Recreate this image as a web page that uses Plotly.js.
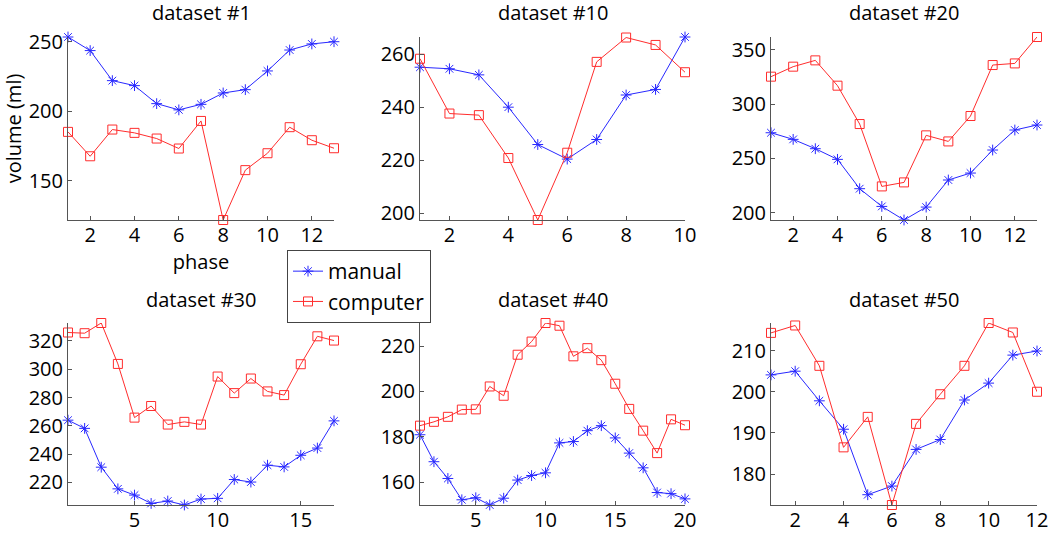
<!DOCTYPE html>
<html>
<head>
<meta charset="utf-8">
<script src="https://cdn.plot.ly/plotly-3.0.1.min.js"></script>
<style>
  html, body {margin: 0; padding: 0; background: #fff;}
  #chart {width: 1050px; height: 535px;}
</style>
</head>
<body>
<div id="chart"></div>
<script>
/* volume per phase, manual vs computer, six datasets */
var titles = ['dataset #1', 'dataset #10', 'dataset #20', 'dataset #30', 'dataset #40', 'dataset #50'];

var manual1 = [253.6, 243.8, 222.1, 218.5, 205.5, 201.0, 205.0, 213.2, 215.6, 229.1, 244.2, 248.6, 250.2];
var computer1 = [185.1, 167.5, 186.8, 184.4, 180.3, 173.1, 193.0, 121.5, 157.5, 169.7, 188.5, 179.1, 173.3];

var manual10 = [255.2, 254.6, 252.3, 240.1, 226.0, 220.5, 227.9, 244.7, 246.8, 266.6];
var computer10 = [258.4, 237.7, 237.1, 220.9, 197.5, 222.9, 257.2, 266.4, 263.6, 253.3];

var manual20 = [273.6, 267.5, 258.9, 249.1, 222.1, 205.8, 193.3, 205.2, 230.1, 236.5, 257.7, 276.1, 280.7];
var computer20 = [325.2, 334.4, 340.2, 316.9, 281.6, 224.2, 227.9, 271.2, 265.6, 289.0, 335.9, 337.4, 361.7];

var manual30 = [264.0, 258.2, 230.8, 215.5, 211.1, 205.2, 206.9, 204.1, 208.3, 208.8, 222.1, 220.3, 232.2, 231.0, 239.2, 244.3, 263.5];
var computer30 = [325.9, 325.4, 332.6, 303.7, 265.8, 274.0, 260.9, 262.8, 260.9, 294.8, 283.1, 293.4, 284.3, 281.7, 303.5, 323.2, 320.2];

var manual40 = [180.9, 169.0, 161.6, 152.2, 153.1, 149.9, 152.9, 160.9, 162.9, 164.1, 177.3, 177.9, 182.7, 184.9, 179.5, 172.8, 166.3, 155.4, 154.9, 152.6];
var computer40 = [184.9, 186.6, 188.8, 192.0, 192.1, 202.2, 198.1, 216.2, 222.0, 230.2, 229.0, 215.5, 219.1, 213.8, 203.4, 192.3, 182.7, 172.8, 187.7, 185.1];

var manual50 = [204.1, 205.0, 197.8, 190.9, 175.0, 177.1, 186.0, 188.4, 198.0, 202.1, 208.9, 209.9];
var computer50 = [214.3, 216.1, 206.3, 186.5, 193.9, 172.5, 192.2, 199.4, 206.3, 216.7, 214.4, 200.0];

var manualSets = [manual1, manual10, manual20, manual30, manual40, manual50];
var computerSets = [computer1, computer10, computer20, computer30, computer40, computer50];
var xTickStep = [2, 2, 2, 5, 5, 2];
var yTickStep = [50, 20, 50, 20, 20, 10];

var W = 1050, H = 535;
var FONT = '"Open Sans", "DejaVu Sans", sans-serif';
var FS = 20;
// pixel boxes of the six axes (left, right, top, bottom)
var colX = [[68, 334], [420, 685], [771, 1037]];
var rowY = [[37, 220], [323, 505]];

function phases(n) {
    var p = [];
    for (var i = 1; i <= n; i++) p.push(i);
    return p;
}

var data = [];
var layout = {
    width: W, height: H,
    margin: {l: 0, r: 0, t: 0, b: 0},
    paper_bgcolor: '#fff',
    plot_bgcolor: '#fff',
    font: {family: FONT, size: FS, color: '#000'},
    showlegend: true,
    legend: {
        x: 287 / W, y: 1 - 250 / H, xanchor: 'left', yanchor: 'top',
        bordercolor: '#444', borderwidth: 1, bgcolor: '#fff',
        font: {family: FONT, size: 21, color: '#000'},
        itemwidth: 30, tracegroupgap: 0
    },
    annotations: []
};

for (var k = 0; k < 6; k++) {
    var m = manualSets[k], c = computerSets[k];
    var x = phases(m.length);
    var sfx = k === 0 ? '' : String(k + 1);
    var col = colX[k % 3], row = rowY[Math.floor(k / 3)];
    var all = m.concat(c);
    var ymin = Math.min.apply(null, all), ymax = Math.max.apply(null, all);

    data.push({
        x: x, y: m, type: 'scatter', mode: 'lines+markers', name: 'manual',
        xaxis: 'x' + sfx, yaxis: 'y' + sfx, showlegend: k === 0, cliponaxis: false,
        line: {color: 'rgb(40,40,255)', width: 1},
        marker: {symbol: 'asterisk-open', size: 9, line: {color: 'rgb(40,40,255)', width: 1}}
    });
    data.push({
        x: x, y: c, type: 'scatter', mode: 'lines+markers', name: 'computer',
        xaxis: 'x' + sfx, yaxis: 'y' + sfx, showlegend: k === 0, cliponaxis: false,
        line: {color: 'rgb(255,45,45)', width: 1},
        marker: {symbol: 'square-open', size: 9, color: 'rgb(255,45,45)', line: {color: 'rgb(255,45,45)', width: 1}}
    });

    var axStyle = {
        showgrid: false, zeroline: false, showline: true, linecolor: '#555', linewidth: 1,
        ticks: 'inside', ticklen: 4, tickcolor: '#555', mirror: false,
        tickfont: {family: FONT, size: FS, color: '#000'}
    };
    layout['xaxis' + sfx] = Object.assign({}, axStyle, {
        domain: [col[0] / W, col[1] / W], anchor: 'y' + sfx,
        range: [1, m.length], tick0: 0, dtick: xTickStep[k], ticklabelstandoff: -3
    });
    layout['yaxis' + sfx] = Object.assign({}, axStyle, {
        domain: [1 - row[1] / H, 1 - row[0] / H], anchor: 'x' + sfx,
        range: [ymin, ymax], tick0: 0, dtick: yTickStep[k]
    });

    layout.annotations.push({
        text: titles[k], xref: 'paper', yref: 'paper', showarrow: false,
        x: (col[0] + col[1]) / 2 / W, y: 1 - (row[0] - 24) / H,
        xanchor: 'center', yanchor: 'middle',
        font: {family: FONT, size: FS, color: '#000'}
    });
}

layout.xaxis.title = {text: 'phase', standoff: 0, font: {family: FONT, size: FS}};
layout.yaxis.title = {text: 'volume (ml)', standoff: 4, font: {family: FONT, size: FS}};

Plotly.newPlot('chart', data, layout, {displayModeBar: false, staticPlot: true});
</script>
</body>
</html>
